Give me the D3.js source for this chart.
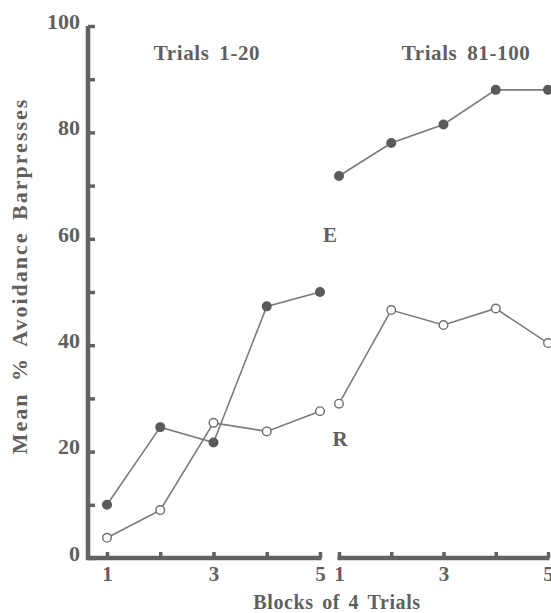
<!DOCTYPE html>
<html>
<head>
<meta charset="utf-8">
<script src="https://cdn.jsdelivr.net/npm/d3@7"></script>
<style>
  body { margin: 0; background: #fff; }
  text { font-family: "Liberation Serif", "Times New Roman", serif; fill: #5f5f5f; }
</style>
</head>
<body>
<div id="chart"></div>
<script>
// blocks of 4 trials, two separate panels
var blocks = [1, 2, 3, 4, 5];
var panels = ["Trials 1-20", "Trials 81-100"];

// group E (filled) and R (open), mean % avoidance barpresses
var eEarly = [10, 24.6, 21.7, 47.3, 50];
var rEarly = [3.8, 9, 25.4, 23.8, 27.6];
var eLate = [71.8, 78, 81.5, 88, 88];
var rLate = [29, 46.6, 43.8, 46.9, 40.4];

var yTicks = [0, 20, 40, 60, 80, 100];
var xLabels = [1, 3, 5];

var width = 551, height = 613;
var axisColor = "#626262", lineColor = "#7a7a7a";

var svg = d3.select("#chart").append("svg")
  .attr("width", width)
  .attr("height", height);

var y = d3.scaleLinear().domain([0, 100]).range([558, 26]);
var xA = d3.scaleLinear().domain([1, 5]).range([107, 320]);
var xB = d3.scaleLinear().domain([1, 5]).range([339, 548]);
var yAxisX = 88;

/* y axis: labels on the left, small nubs inside */
svg.append("g")
  .attr("transform", `translate(${yAxisX - 6},0)`)
  .call(d3.axisLeft(y).tickValues(yTicks).tickSize(0).tickPadding(2).tickFormat(d3.format("d")))
  .call(g => g.select(".domain").remove())
  .selectAll("text")
  .attr("dy", "0.1em")
  .style("font-size", "22px")
  .style("font-weight", "bold");

svg.append("g")
  .attr("transform", `translate(${yAxisX},0)`)
  .call(d3.axisRight(y).ticks(10).tickSize(7).tickFormat(""))
  .call(g => g.select(".domain").remove())
  .selectAll("line")
  .attr("stroke", axisColor)
  .attr("stroke-width", 3.5);

svg.append("line")
  .attr("x1", yAxisX).attr("x2", yAxisX)
  .attr("y1", y(100)).attr("y2", y(0) + 2)
  .attr("stroke", axisColor)
  .attr("stroke-width", 4.5);

/* x axes, one segment per panel */
function drawX(x, left) {
  svg.append("g")
    .attr("transform", `translate(0,${y(0)})`)
    .call(d3.axisBottom(x).tickValues(xLabels).tickSize(0).tickPadding(8).tickFormat(d3.format("d")))
    .call(g => g.select(".domain").remove())
    .selectAll("text")
    .style("font-size", "21px")
    .style("font-weight", "bold");

  svg.append("g")
    .attr("transform", `translate(0,${y(0)})`)
    .call(d3.axisTop(x).tickValues(blocks).tickSize(6).tickFormat(""))
    .call(g => g.select(".domain").remove())
    .selectAll("line")
    .attr("stroke", axisColor)
    .attr("stroke-width", 3.5);

  svg.append("line")
    .attr("x1", left).attr("x2", x(5) + 1.5)
    .attr("y1", y(0)).attr("y2", y(0))
    .attr("stroke", axisColor)
    .attr("stroke-width", 4.5);
}
drawX(xA, yAxisX - 2);
drawX(xB, xB(1) - 1.5);

/* lines and markers */
var line = d3.line().y(d => y(d));

function drawSeries(x, values, filled) {
  svg.append("path")
    .datum(values)
    .attr("d", line.x((d, i) => x(blocks[i])))
    .attr("fill", "none")
    .attr("stroke", lineColor)
    .attr("stroke-width", 1.6);

  svg.append("g")
    .selectAll("circle")
    .data(values).enter()
    .append("circle")
    .attr("cx", (d, i) => x(blocks[i]))
    .attr("cy", d => y(d))
    .attr("r", 4.3)
    .attr("fill", filled ? "#5a5a5a" : "#fff")
    .attr("stroke", filled ? "#5a5a5a" : "#6e6e6e")
    .attr("stroke-width", 1.4);
}
drawSeries(xA, eEarly, true);
drawSeries(xA, rEarly, false);
drawSeries(xB, eLate, true);
drawSeries(xB, rLate, false);

/* panel titles */
svg.selectAll(".panel-title")
  .data(panels).enter()
  .append("text")
  .attr("class", "panel-title")
  .attr("x", (d, i) => i === 0 ? 207 : 466)
  .attr("y", 60)
  .attr("text-anchor", "middle")
  .style("font-size", "21px")
  .style("font-weight", "bold")
  .style("letter-spacing", "0.6px")
  .style("word-spacing", "4px")
  .text(d => d);

/* group labels */
svg.append("text")
  .attr("x", 330).attr("y", 242)
  .attr("text-anchor", "middle")
  .style("font-size", "21px").style("font-weight", "bold")
  .text("E");

svg.append("text")
  .attr("x", 340).attr("y", 446)
  .attr("text-anchor", "middle")
  .style("font-size", "21px").style("font-weight", "bold")
  .text("R");

/* axis titles */
svg.append("text")
  .attr("x", 337).attr("y", 609)
  .attr("text-anchor", "middle")
  .style("font-size", "20px").style("font-weight", "bold")
  .style("letter-spacing", "0.6px")
  .style("word-spacing", "3px")
  .text("Blocks of 4 Trials");

svg.append("text")
  .attr("transform", "translate(27,276) rotate(-90)")
  .attr("text-anchor", "middle")
  .style("font-size", "22px").style("font-weight", "bold")
  .style("letter-spacing", "2px")
  .style("word-spacing", "4px")
  .text("Mean % Avoidance Barpresses");
</script>
</body>
</html>
